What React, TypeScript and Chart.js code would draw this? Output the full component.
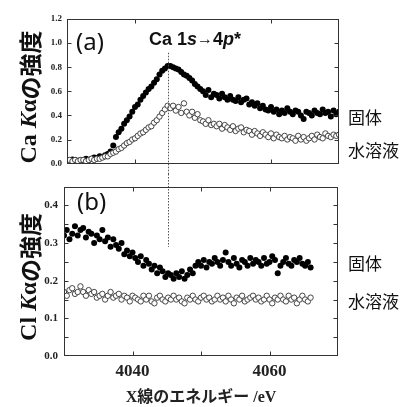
import React, { useEffect, useRef } from "react";
import { Chart, registerables } from "chart.js";

Chart.register(...registerables);

// ---------- data ----------
const ENERGY_A = [
  4030.0, 4030.4, 4030.8, 4031.2, 4031.6, 4032.0, 4032.4, 4032.8, 4033.2, 4033.6,
  4034.0, 4034.4, 4034.8, 4035.2, 4035.6, 4036.0, 4036.4, 4036.8, 4037.2, 4037.6,
  4038.0, 4038.4, 4038.8, 4039.2, 4039.6, 4040.0, 4040.4, 4040.8, 4041.2, 4041.6,
  4042.0, 4042.4, 4042.8, 4043.2, 4043.6, 4044.0, 4044.4, 4044.8, 4045.2, 4045.6,
  4046.0, 4046.4, 4046.8, 4047.2, 4047.6, 4048.0, 4048.4, 4048.8, 4049.2, 4049.6,
  4050.0, 4050.4, 4050.8, 4051.2, 4051.6, 4052.0, 4052.4, 4052.8, 4053.2, 4053.6,
  4054.0, 4054.4, 4054.8, 4055.2, 4055.6, 4056.0, 4056.4, 4056.8, 4057.2, 4057.6,
  4058.0, 4058.4, 4058.8, 4059.2, 4059.6, 4060.0, 4060.4, 4060.8, 4061.2, 4061.6,
  4062.0, 4062.4, 4062.8, 4063.2, 4063.6, 4064.0, 4064.4, 4064.8, 4065.2, 4065.6,
  4066.0, 4066.4, 4066.8, 4067.2, 4067.6, 4068.0, 4068.4, 4068.8, 4069.2, 4069.6,
  4070.0,
];

const CA_SOLID = [
  0.03, 0.02, 0.035, 0.03, 0.02, 0.03, 0.025, 0.04, 0.03, 0.04,
  0.05, 0.045, 0.06, 0.055, 0.07, 0.08, 0.10, 0.15, 0.22, 0.26,
  0.29, 0.33, 0.36, 0.39, 0.43, 0.47, 0.49, 0.53, 0.56, 0.59,
  0.62, 0.64, 0.67, 0.70, 0.74, 0.77, 0.79, 0.81, 0.81, 0.80,
  0.79, 0.78, 0.76, 0.74, 0.73, 0.71, 0.69, 0.66, 0.64, 0.62,
  0.60, 0.57, 0.61, 0.55, 0.58, 0.57, 0.54, 0.58, 0.55, 0.53,
  0.56, 0.53, 0.52, 0.55, 0.51, 0.53, 0.54, 0.49, 0.51, 0.48,
  0.50, 0.46, 0.48, 0.45, 0.44, 0.47, 0.43, 0.45, 0.41, 0.44,
  0.42, 0.46, 0.43, 0.41, 0.44, 0.43, 0.40, 0.37, 0.43, 0.42,
  0.40, 0.44, 0.42, 0.41, 0.45, 0.42, 0.43, 0.39, 0.44, 0.41,
  0.43,
];

const CA_AQUEOUS = [
  0.02, 0.03, 0.02, 0.03, 0.02, 0.03, 0.03, 0.02, 0.03, 0.04,
  0.03, 0.04, 0.04, 0.05, 0.06, 0.06, 0.08, 0.09, 0.10, 0.12,
  0.13, 0.15, 0.17, 0.18, 0.20, 0.21, 0.23, 0.25, 0.26, 0.28,
  0.30, 0.31, 0.34, 0.36, 0.39, 0.42, 0.45, 0.48, 0.46, 0.48,
  0.44, 0.47, 0.42, 0.50, 0.43, 0.40, 0.43, 0.38, 0.41, 0.36,
  0.35, 0.33, 0.36, 0.32, 0.33, 0.31, 0.33, 0.29, 0.32, 0.30,
  0.28, 0.31, 0.27, 0.29, 0.30, 0.26, 0.28, 0.27, 0.24, 0.27,
  0.25, 0.23, 0.26, 0.24, 0.22, 0.25, 0.21, 0.24, 0.22, 0.21,
  0.23, 0.20, 0.22, 0.21, 0.19, 0.23, 0.20, 0.22, 0.19, 0.21,
  0.23, 0.20, 0.24, 0.22, 0.21, 0.25, 0.23, 0.22, 0.24, 0.23,
  0.24,
];

const ENERGY_B = [
  4030.0, 4030.4, 4030.8, 4031.2, 4031.6, 4032.0, 4032.4, 4032.8, 4033.2, 4033.6,
  4034.0, 4034.4, 4034.8, 4035.2, 4035.6, 4036.0, 4036.4, 4036.8, 4037.2, 4037.6,
  4038.0, 4038.4, 4038.8, 4039.2, 4039.6, 4040.0, 4040.4, 4040.8, 4041.2, 4041.6,
  4042.0, 4042.4, 4042.8, 4043.2, 4043.6, 4044.0, 4044.4, 4044.8, 4045.2, 4045.6,
  4046.0, 4046.4, 4046.8, 4047.2, 4047.6, 4048.0, 4048.4, 4048.8, 4049.2, 4049.6,
  4050.0, 4050.4, 4050.8, 4051.2, 4051.6, 4052.0, 4052.4, 4052.8, 4053.2, 4053.6,
  4054.0, 4054.4, 4054.8, 4055.2, 4055.6, 4056.0, 4056.4, 4056.8, 4057.2, 4057.6,
  4058.0, 4058.4, 4058.8, 4059.2, 4059.6, 4060.0, 4060.4, 4060.8, 4061.2, 4061.6,
  4062.0, 4062.4, 4062.8, 4063.2, 4063.6, 4064.0, 4064.4, 4064.8, 4065.2, 4065.6,
  4066.0,
];

const CL_SOLID = [
  0.32, 0.335, 0.31, 0.325, 0.345, 0.32, 0.335, 0.34, 0.315, 0.33,
  0.325, 0.30, 0.32, 0.31, 0.335, 0.305, 0.315, 0.29, 0.31, 0.295,
  0.285, 0.30, 0.27, 0.28, 0.265, 0.275, 0.26, 0.25, 0.265, 0.24,
  0.255, 0.245, 0.23, 0.24, 0.22, 0.235, 0.225, 0.21, 0.22, 0.215,
  0.205, 0.22, 0.21, 0.225, 0.205, 0.215, 0.23, 0.22, 0.24, 0.25,
  0.24, 0.255, 0.235, 0.25, 0.245, 0.26, 0.25, 0.24, 0.255, 0.275,
  0.25, 0.24, 0.26, 0.245, 0.235, 0.255, 0.25, 0.24, 0.26, 0.245,
  0.255, 0.25, 0.24, 0.26, 0.245, 0.25, 0.265, 0.255, 0.22, 0.24,
  0.25, 0.26, 0.245, 0.24, 0.255, 0.25, 0.26, 0.245, 0.24, 0.25,
  0.235,
];

const CL_AQUEOUS = [
  0.17, 0.16, 0.175, 0.18, 0.165, 0.17, 0.185, 0.17, 0.16, 0.175,
  0.165, 0.17, 0.155, 0.16, 0.165, 0.15, 0.16, 0.17, 0.155, 0.16,
  0.165, 0.15, 0.16, 0.155, 0.145, 0.16, 0.155, 0.15, 0.145, 0.16,
  0.15, 0.16, 0.145, 0.14, 0.155, 0.16, 0.15, 0.145, 0.155, 0.15,
  0.16, 0.15, 0.155, 0.145, 0.14, 0.155, 0.15, 0.16, 0.15, 0.145,
  0.155, 0.16, 0.15, 0.155, 0.145, 0.15, 0.16, 0.15, 0.155, 0.145,
  0.16, 0.15, 0.14, 0.155, 0.15, 0.16, 0.145, 0.15, 0.155, 0.16,
  0.15, 0.155, 0.145, 0.15, 0.16, 0.15, 0.14, 0.155, 0.15, 0.16,
  0.15, 0.145, 0.16, 0.15, 0.155, 0.14, 0.15, 0.16, 0.15, 0.145,
  0.155,
];

const TOP_X_TICKS = [4040, 4060];
const PEAK_ENERGY = 4045;
const SERIES_LABELS = ["固体", "水溶液"];

// ---------- styling ----------
const SERIF = '"Liberation Serif", "Times New Roman", "Noto Sans CJK JP", serif';
const SANS = '"Liberation Sans", Arial, sans-serif';
const CJK = '"Noto Sans CJK JP", sans-serif';
const INK = "#222";

type Part = { t: string; f: string };

function drawRich(ctx: CanvasRenderingContext2D, parts: Part[], x: number, y: number, align: "left" | "center") {
  let w = 0;
  for (const p of parts) {
    ctx.font = p.f;
    w += ctx.measureText(p.t).width;
  }
  let cx = align === "center" ? x - w / 2 : x;
  ctx.textAlign = "left";
  ctx.textBaseline = "middle";
  for (const p of parts) {
    ctx.font = p.f;
    ctx.fillText(p.t, cx, y);
    cx += ctx.measureText(p.t).width;
  }
}

const framePlugin = {
  id: "frame",
  afterDatasetsDraw(chart: any, _args: any, opts: any) {
    const { ctx, chartArea: a, scales } = chart;
    const xs = scales.x;
    const ys = scales.y;
    ctx.save();

    // dotted marker line at peak energy
    const px = Math.round(xs.getPixelForValue(PEAK_ENERGY)) + 0.5 + (opts.lineShift || 0);
    const yFrom = opts.lineFrom === "canvasTop" ? 0 : ys.getPixelForValue(opts.lineFrom);
    const yTo = opts.lineTo === "canvasBottom" ? chart.height : ys.getPixelForValue(opts.lineTo);
    ctx.strokeStyle = "#555";
    ctx.lineWidth = 1;
    ctx.setLineDash([1.5, 1.5]);
    ctx.beginPath();
    ctx.moveTo(px, yFrom);
    ctx.lineTo(px, yTo);
    ctx.stroke();
    ctx.setLineDash([]);

    // frame
    const L = Math.round(a.left) + 0.5;
    const R = Math.round(a.right) - 0.5;
    const T = Math.round(a.top) + 0.5;
    const B = Math.round(a.bottom) - 0.5;
    ctx.strokeStyle = "#333";
    ctx.lineWidth = 1;
    ctx.strokeRect(L, T, R - L, B - T);

    // inward tick marks
    const tl = 4;
    ctx.beginPath();
    for (const t of xs.ticks) {
      if (t.value <= xs.min || t.value >= xs.max) continue;
      const x = Math.round(xs.getPixelForValue(t.value)) + 0.5;
      ctx.moveTo(x, B);
      ctx.lineTo(x, B - tl);
      ctx.moveTo(x, T);
      ctx.lineTo(x, T + tl);
    }
    for (const t of ys.ticks) {
      if (t.value <= ys.min + 1e-9 || t.value >= ys.max - 1e-9) continue;
      const y = Math.round(ys.getPixelForValue(t.value)) + 0.5;
      ctx.moveTo(L, y);
      ctx.lineTo(L + tl, y);
      ctx.moveTo(R, y);
      ctx.lineTo(R - tl, y);
    }
    ctx.stroke();
    ctx.restore();
  },
  afterDraw(chart: any, _args: any, opts: any) {
    const { ctx } = chart;
    ctx.save();
    ctx.fillStyle = "#111";
    for (const item of opts.texts || []) {
      drawRich(ctx, item.parts, item.x, item.y, item.align || "left");
    }
    if (opts.yTitle) {
      ctx.translate(opts.yTitle.x, opts.yTitle.y);
      ctx.rotate(-Math.PI / 2);
      drawRich(ctx, opts.yTitle.parts, 0, 0, "center");
    }
    ctx.restore();
  },
};

function yTitleParts(elem: string): Part[] {
  return [
    { t: elem + " ", f: `bold 24px ${SERIF}` },
    { t: "K", f: `italic bold 24px ${SERIF}` },
    { t: "α", f: `bold 23px ${SERIF}` },
    { t: "の強度", f: `bold 23px ${CJK}` },
  ];
}

function solidDataset(xs: number[], ys: number[]) {
  return {
    label: SERIES_LABELS[0],
    data: xs.map((x, i) => ({ x, y: ys[i] })),
    pointRadius: 3,
    pointBackgroundColor: "#000",
    pointBorderColor: "#000",
    pointBorderWidth: 0,
    showLine: false,
  };
}

function openDataset(xs: number[], ys: number[]) {
  return {
    label: SERIES_LABELS[1],
    data: xs.map((x, i) => ({ x, y: ys[i] })),
    pointRadius: 2.7,
    pointBackgroundColor: "#fff",
    pointBorderColor: "#333",
    pointBorderWidth: 0.9,
    showLine: false,
  };
}

function makeTopConfig(): any {
  return {
    type: "scatter",
    data: {
      datasets: [openDataset(ENERGY_A, CA_AQUEOUS), solidDataset(ENERGY_A, CA_SOLID)],
    },
    plugins: [framePlugin],
    options: {
      animation: false,
      responsive: false,
      events: [],
      layout: { padding: { top: 19, right: 62, left: 0, bottom: 0 } },
      plugins: {
        legend: { display: false },
        tooltip: { enabled: false },
        frame: {
          lineFrom: 0.92,
          lineTo: "canvasBottom",
          lineShift: -1,
          yTitle: { x: 30, y: 97, parts: yTitleParts("Ca") },
          texts: [
            { x: 76, y: 43, parts: [{ t: "(a)", f: `24px "Noto Sans", sans-serif` }] },
            {
              x: 195,
              y: 40,
              align: "center",
              parts: [
                { t: "Ca 1", f: `bold 18px ${SANS}` },
                { t: "s", f: `italic bold 18px ${SANS}` },
                { t: "→", f: `16px ${SANS}` },
                { t: "4", f: `bold 18px ${SANS}` },
                { t: "p", f: `italic bold 18px ${SANS}` },
                { t: "*", f: `bold 18px ${SANS}` },
              ],
            },
            { x: 348, y: 118, parts: [{ t: SERIES_LABELS[0], f: `17px ${CJK}` }] },
            { x: 348, y: 151, parts: [{ t: SERIES_LABELS[1], f: `17px ${CJK}` }] },
          ],
        },
      },
      scales: {
        x: {
          type: "linear",
          min: 4030,
          max: 4070,
          ticks: { display: false },
          grid: { display: false, drawTicks: false },
          border: { display: false },
          afterBuildTicks: (s: any) => {
            s.ticks = TOP_X_TICKS.map((v) => ({ value: v }));
          },
          afterFit: (s: any) => {
            s.height = 1;
          },
        },
        y: {
          type: "linear",
          min: 0,
          max: 1.2,
          ticks: {
            stepSize: 0.2,
            padding: 5,
            color: INK,
            font: { family: SERIF, size: 9, weight: "bold" },
            callback: (v: number) => Number(v).toFixed(1),
          },
          grid: { display: false, drawTicks: false },
          border: { display: false },
          afterFit: (s: any) => {
            s.width = 67;
          },
        },
      },
    },
  };
}

function makeBottomConfig(): any {
  return {
    type: "scatter",
    data: {
      datasets: [openDataset(ENERGY_B, CL_AQUEOUS), solidDataset(ENERGY_B, CL_SOLID)],
    },
    plugins: [framePlugin],
    options: {
      animation: false,
      responsive: false,
      events: [],
      layout: { padding: { top: 8, right: 63, left: 0, bottom: 0 } },
      plugins: {
        legend: { display: false },
        tooltip: { enabled: false },
        frame: {
          lineFrom: "canvasTop",
          lineTo: 0.29,
          lineShift: 1,
          yTitle: { x: 30, y: 103, parts: yTitleParts("Cl") },
          texts: [
            { x: 77, y: 29, parts: [{ t: "(b)", f: `24px "Noto Sans", sans-serif` }] },
            { x: 348, y: 90, parts: [{ t: SERIES_LABELS[0], f: `17px ${CJK}` }] },
            { x: 348, y: 128, parts: [{ t: SERIES_LABELS[1], f: `17px ${CJK}` }] },
          ],
        },
      },
      scales: {
        x: {
          type: "linear",
          min: 4030,
          max: 4070,
          ticks: {
            stepSize: 10,
            padding: 5,
            color: INK,
            maxRotation: 0,
            autoSkip: false,
            font: { family: SERIF, size: 17, weight: "bold" },
            callback: (v: number) => (Math.round(v) % 20 === 0 ? String(Math.round(v)) : ""),
          },
          title: {
            display: true,
            text: "X線のエネルギー /eV",
            color: INK,
            font: { family: SERIF, size: 16, weight: "bold", lineHeight: 1.2 },
            padding: { top: 0, bottom: 0 },
          },
          grid: { display: false, drawTicks: false },
          border: { display: false },
          afterFit: (s: any) => {
            s.height = 51;
          },
        },
        y: {
          type: "linear",
          min: 0,
          max: 0.45,
          ticks: {
            stepSize: 0.05,
            padding: 6,
            color: INK,
            autoSkip: false,
            font: { family: SERIF, size: 11, weight: "bold" },
            callback: (v: number) => (Math.round(v * 100) % 10 === 0 ? Number(v).toFixed(1) : ""),
          },
          grid: { display: false, drawTicks: false },
          border: { display: false },
          afterFit: (s: any) => {
            s.width = 64;
          },
        },
      },
    },
  };
}

export default function App() {
  const topRef = useRef<HTMLCanvasElement>(null);
  const botRef = useRef<HTMLCanvasElement>(null);

  useEffect(() => {
    const c1 = new Chart(topRef.current as HTMLCanvasElement, makeTopConfig());
    const c2 = new Chart(botRef.current as HTMLCanvasElement, makeBottomConfig());
    return () => {
      c1.destroy();
      c2.destroy();
    };
  }, []);

  return (
    <div style={{ position: "absolute", left: 0, top: 0, width: 401, height: 407, background: "#fff", overflow: "hidden" }}>
      <canvas
        ref={topRef}
        width={401}
        height={174}
        style={{ position: "absolute", left: 0, top: 0, width: 401, height: 174 }}
      />
      <canvas
        ref={botRef}
        width={401}
        height={233}
        style={{ position: "absolute", left: 0, top: 174, width: 401, height: 233 }}
      />
    </div>
  );
}
